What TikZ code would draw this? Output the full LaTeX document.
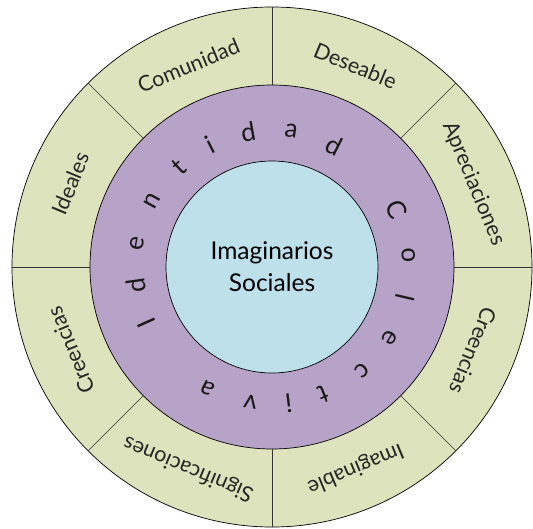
\documentclass[tikz,border=0pt]{standalone}
\usepackage{fontspec}
\setmainfont{Lato}
\usetikzlibrary{positioning}
\usepackage{xcolor}
\definecolor{ringgreen}{RGB}{221,227,188}
\definecolor{ringpurple}{RGB}{184,163,200}
\definecolor{coreblue}{RGB}{190,224,235}
\tikzset{
    disc/.style={
        draw=black,
        circle,
        inner sep=0pt,
        line width=0.7pt
    }
}

\begin{document}
\begin{tikzpicture}[x=1pt, y=1pt]
  \tikzset{
    sector/.style={
      font=\fontsize{21.5}{23}\selectfont,
      text=black!85
    },
    ringletter/.style={
      font=\fontsize{26}{28}\selectfont,
      text=black!90
    },
    divider/.style={
      draw=black!80,
      line width=0.7pt
    }
  }
  \useasboundingbox (-272,-261) rectangle (261,267);

  % Three rings from outside in
  \node[disc, fill=ringgreen, minimum size=520pt] (outer) at (0,0) {};
  \node[disc, fill=ringpurple, minimum size=364pt] (middle) at (0,0) {};
  \node[disc, fill=coreblue, minimum size=212pt, align=center,
        font=\fontsize{24.5}{32}\selectfont] (core) at (0,0) {Imaginarios\\Sociales};

  % Dividers of the outer ring
  \draw[divider] (middle.0) -- (outer.0);
  \draw[divider] (middle.45) -- (outer.45);
  \draw[divider] (middle.90) -- (outer.90);
  \draw[divider] (middle.135) -- (outer.135);
  \draw[divider] (middle.180) -- (outer.180);
  \draw[divider] (middle.225) -- (outer.225);
  \draw[divider] (middle.270) -- (outer.270);
  \draw[divider] (middle.315) -- (outer.315);

  % Labels of the outer ring
  \node[sector, rotate=-67.5] (apreciaciones) at (22.5:218) {Apreciaciones};
  \node[sector, rotate=-22.5] (deseable) at (67.5:218) {Deseable};
  \node[sector, rotate=22.5] (comunidad) at (112.5:218) {Comunidad};
  \node[sector, rotate=67.5] (ideales) at (157.5:218) {Ideales};
  \node[sector, rotate=112.5] (creenciasleft) at (202.5:218) {Creencias};
  \node[sector, rotate=157.5] (significaciones) at (247.5:218) {Significaciones};
  \node[sector, rotate=202.5] (imaginable) at (292.5:218) {Imaginable};
  \node[sector, rotate=247.5] (creenciasright) at (337.5:218) {Creencias};

  % Letters round the middle ring
  \node[ringletter, rotate=114] (l1) at (204:137) {I};
  \node[ringletter, rotate=98] (l2) at (188:137) {d};
  \node[ringletter, rotate=80] (l3) at (170:137) {e};
  \node[ringletter, rotate=61] (l4) at (151:137) {n};
  \node[ringletter, rotate=43] (l5) at (133:137) {t};
  \node[ringletter, rotate=27] (l6) at (117:137) {i};
  \node[ringletter, rotate=10] (l7) at (100:137) {d};
  \node[ringletter, rotate=-8] (l8) at (82:137) {a};
  \node[ringletter, rotate=-27] (l9) at (63:137) {d};
  \node[ringletter, rotate=-65] (l10) at (25:137) {C};
  \node[ringletter, rotate=-85] (l11) at (5:137) {o};
  \node[ringletter, rotate=-103] (l12) at (-13:137) {l};
  \node[ringletter, rotate=-121] (l13) at (-31:137) {e};
  \node[ringletter, rotate=-139] (l14) at (-49:137) {c};
  \node[ringletter, rotate=-158] (l15) at (-68:137) {t};
  \node[ringletter, rotate=-173] (l16) at (-83:137) {i};
  \node[ringletter, rotate=-189] (l17) at (-99:137) {v};
  \node[ringletter, rotate=-208] (l18) at (-118:137) {a};
\end{tikzpicture}
\end{document}
